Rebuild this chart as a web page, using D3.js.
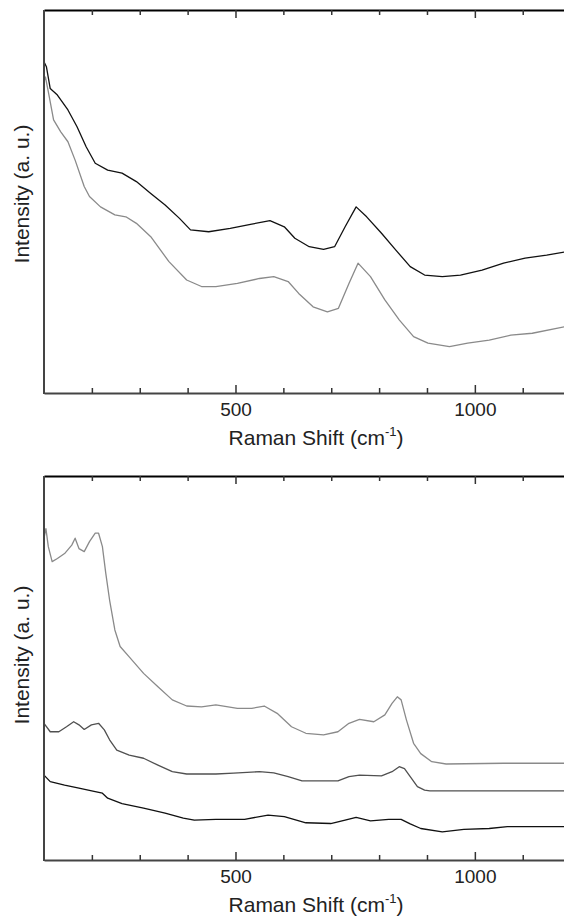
<!DOCTYPE html>
<html>
<head>
<meta charset="utf-8">
<script src="https://cdn.jsdelivr.net/npm/d3@7"></script>
<style>
  body { margin: 0; background: #fff; }
  svg { display: block; }
</style>
</head>
<body>
<script>
// Raman shift (cm-1) and intensity (a.u.)
const top_black_x = [100,105,113,128,150,169,188,207,233,263,293,323,353,383,406,444,489,534,572,602,624,654,684,707,729,752,774,805,835,865,895,932,970,1015,1060,1105,1150,1200]
const top_black_y = [86.5,85.2,79.5,77.8,73.9,69.5,64.3,60.0,58.2,57.4,55.2,52.1,49.1,45.6,42.6,42.1,43.0,44.1,45.0,43.4,40.4,38.2,37.5,38.2,43.4,48.6,46.0,41.7,37.3,33.0,30.8,30.4,30.8,32.1,33.9,35.2,36.0,37.1]

const top_gray_x = [100,103,109,120,135,150,165,184,195,218,248,271,293,323,361,398,429,459,504,550,580,610,632,662,692,715,737,756,782,812,842,872,902,947,985,1030,1075,1120,1200]
const top_gray_y = [81.3,82.5,78.7,71.3,68.2,65.6,60.8,53.9,51.3,48.6,46.5,46.0,44.3,40.8,34.3,29.5,27.8,27.8,28.6,29.9,30.4,29.1,26.0,22.5,21.2,22.1,28.6,33.9,30.4,24.3,19.1,14.7,13.0,12.1,13.0,13.8,15.1,15.6,17.6]

const bot_light_x = [100,104,109,117,128,143,158,165,173,184,195,207,214,222,229,237,248,259,278,308,338,368,398,429,459,504,534,560,587,617,647,684,714,737,759,789,812,827,838,846,857,872,887,910,940,1060,1200]
const bot_light_y = [83.8,86.3,81.6,77.7,78.5,79.8,82.0,83.8,81.1,80.3,82.9,85.1,85.1,81.6,74.7,67.7,59.9,55.6,52.9,48.6,45.1,41.7,40.1,39.9,40.4,39.5,39.5,40.1,38.2,34.7,33.0,32.6,33.4,35.6,36.6,36.0,37.8,40.8,42.5,41.7,36.5,30.4,27.7,25.6,25.0,25.2,25.2]

const bot_mid_x = [100,113,131,147,162,173,184,199,214,226,237,252,278,308,338,368,398,459,496,550,580,610,639,714,737,759,805,827,842,853,865,880,895,906,1200]
const bot_mid_y = [35.6,33.4,33.4,34.7,36.0,35.2,34.0,35.2,35.6,33.9,31.3,28.6,27.3,26.5,24.7,23.0,22.4,22.4,22.6,23.0,22.7,21.7,20.6,20.6,21.7,22.1,21.9,23.0,24.3,23.8,21.7,19.1,18.2,18.0,18.0]

const bot_black_x = [100,113,143,173,207,222,233,263,308,353,391,414,459,519,568,602,647,699,729,752,782,820,846,865,887,932,977,1030,1068,1113,1200]
const bot_black_y = [22.1,20.4,19.5,18.7,17.8,17.4,16.1,14.7,13.5,12.2,10.9,10.4,10.6,10.6,11.7,11.3,9.7,9.5,10.4,11.1,10.2,10.6,10.6,9.4,8.2,7.3,8.0,8.2,8.7,8.7,8.7]

const major_ticks = [500, 1000]
const minor_ticks = [200, 300, 400, 600, 700, 800, 900, 1100, 1200]

const width = 564
const height = 918

const svg = d3.select('body').append('svg')
  .attr('width', width)
  .attr('height', height)
  .attr('viewBox', `0 0 ${width} ${height}`)

const font = 'Liberation Sans, Arial, sans-serif'

const x = d3.scaleLinear().domain([100, 1200]).range([44, 570.6])

function zip(xs, ys) {
  return xs.map((v, i) => [v, ys[i]])
}

function panel(top, bottom, series, label_y) {
  const y = d3.scaleLinear().domain([0, 100]).range([bottom, top])

  const line = d3.line()
    .x(d => x(d[0]))
    .y(d => y(d[1]))

  series.forEach(s => {
    svg.append('path')
      .datum(zip(s.xs, s.ys))
      .attr('fill', 'none')
      .attr('stroke', s.color)
      .attr('stroke-width', 1.3)
      .attr('stroke-linejoin', 'round')
      .attr('d', line)
  })

  // bottom axis, ticks pointing in
  const bottom_axis = svg.append('g')
    .attr('transform', `translate(0, ${bottom})`)
    .call(d3.axisBottom(x).tickValues(major_ticks).tickSize(-8).tickSizeOuter(0).tickPadding(10).tickFormat(d3.format('d')))
  bottom_axis.select('.domain').attr('stroke', '#444').attr('stroke-width', 2)
  bottom_axis.selectAll('.tick line').attr('stroke', '#333').attr('stroke-width', 1.5)
  bottom_axis.selectAll('.tick text')
    .attr('font-family', font)
    .attr('font-size', 19)
    .attr('fill', '#222')

  const bottom_minor = svg.append('g')
    .attr('transform', `translate(0, ${bottom})`)
    .call(d3.axisBottom(x).tickValues(minor_ticks).tickSize(-5).tickFormat(''))
  bottom_minor.select('.domain').remove()
  bottom_minor.selectAll('.tick line').attr('stroke', '#333').attr('stroke-width', 1.5)

  // top axis, ticks pointing in
  const top_axis = svg.append('g')
    .attr('transform', `translate(0, ${top})`)
    .call(d3.axisTop(x).tickValues(major_ticks).tickSize(-8).tickSizeOuter(0).tickFormat(''))
  top_axis.select('.domain').attr('stroke', '#000').attr('stroke-width', 2)
  top_axis.selectAll('.tick line').attr('stroke', '#333').attr('stroke-width', 1.5)

  const top_minor = svg.append('g')
    .attr('transform', `translate(0, ${top})`)
    .call(d3.axisTop(x).tickValues(minor_ticks).tickSize(-5).tickFormat(''))
  top_minor.select('.domain').remove()
  top_minor.selectAll('.tick line').attr('stroke', '#333').attr('stroke-width', 1.5)

  // left frame
  svg.append('line')
    .attr('x1', x(100)).attr('x2', x(100))
    .attr('y1', top).attr('y2', bottom + 1)
    .attr('stroke', '#444')
    .attr('stroke-width', 2)

  // x label
  const xl = svg.append('text')
    .attr('x', 316)
    .attr('y', bottom + 52)
    .attr('text-anchor', 'middle')
    .attr('font-family', font)
    .attr('font-size', 21)
    .attr('fill', '#222')
  xl.append('tspan').text('Raman Shift (cm')
  xl.append('tspan').text('-1').attr('font-size', 13).attr('dy', -9)
  xl.append('tspan').text(')').attr('dy', 9)

  // y label
  svg.append('text')
    .attr('transform', `translate(29, ${label_y}) rotate(-90)`)
    .attr('text-anchor', 'middle')
    .attr('font-family', font)
    .attr('font-size', 21)
    .attr('fill', '#222')
    .text('Intensity (a. u.)')
}

panel(10, 393, [
  {xs: top_gray_x, ys: top_gray_y, color: '#8a8a8a'},
  {xs: top_black_x, ys: top_black_y, color: '#111'},
], 194)

panel(476, 860, [
  {xs: bot_light_x, ys: bot_light_y, color: '#8a8a8a'},
  {xs: bot_mid_x, ys: bot_mid_y, color: '#505050'},
  {xs: bot_black_x, ys: bot_black_y, color: '#111'},
], 655)
</script>
</body>
</html>
